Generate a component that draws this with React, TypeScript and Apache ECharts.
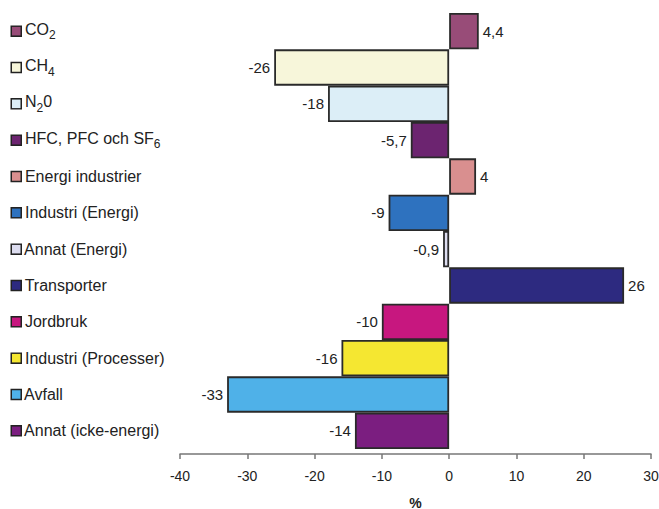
import React, { useEffect, useRef } from "react";
import * as echarts from "echarts";

// Category names; {x} marks a subscript
const categories = [
  "CO{2}",
  "CH{4}",
  "N{2}0",
  "HFC, PFC och SF{6}",
  "Energi industrier",
  "Industri (Energi)",
  "Annat (Energi)",
  "Transporter",
  "Jordbruk",
  "Industri (Processer)",
  "Avfall",
  "Annat (icke-energi)",
];

const values = [4.4, -26, -18, -5.7, 4, -9, -0.9, 26, -10, -16, -33, -14];

const colors = [
  "#984c78",
  "#f7f6da",
  "#dceef7",
  "#6c2470",
  "#d98f8f",
  "#2e72bf",
  "#dcdcef",
  "#2d2a80",
  "#c7177f",
  "#f5e731",
  "#4fb1e8",
  "#7b1e80",
];

const xTicks = { min: -40, max: 30, interval: 10 };

export default function App() {
  const ref = useRef<HTMLDivElement>(null);

  useEffect(() => {
    if (!ref.current) return;
    const chart = echarts.init(ref.current, undefined, { renderer: "svg" });
    const ff = "Liberation Sans, Arial, sans-serif";

    const rich: Record<string, any> = {
      t: { fontSize: 16, color: "#222", lineHeight: 18, fontFamily: ff },
      tt: { fontSize: 16, color: "#222", lineHeight: 18, verticalAlign: "top", fontFamily: ff },
      sp: { width: 0, height: 20 },
      sub: {
        fontSize: 12,
        color: "#222",
        lineHeight: 12,
        verticalAlign: "bottom",
        fontFamily: ff,
      },
    };
    colors.forEach((c, i) => {
      rich["sq" + i] = {
        width: 8.5,
        height: 8.5,
        backgroundColor: c,
        borderColor: "#222",
        borderWidth: 1.5,
      };
    });

    const fmtName = (name: string, idx: number) => {
      const parts = name.split(/(\{[^}]*\})/).filter((p) => p.length > 0);
      const hasSub = parts.some((p) => p.startsWith("{"));
      if (!hasSub) return `{sq${idx}|}{t| ${name}}`;
      let s = `{sp|}{sq${idx}|}{tt| }`;
      parts.forEach((p) => {
        if (p.startsWith("{")) s += `{sub|${p.slice(1, -1)}}`;
        else s += `{tt|${p}}`;
      });
      return s;
    };

    chart.setOption({
      animation: false,
      textStyle: { fontFamily: ff },
      grid: { left: 180, right: 8, top: 13, height: 436, containLabel: false, outerBoundsMode: "none" },
      xAxis: {
        type: "value",
        min: xTicks.min,
        max: xTicks.max,
        interval: xTicks.interval,
        offset: 5,
        axisLine: { show: true, lineStyle: { color: "#777", width: 1.5 } },
        axisTick: { show: true, length: 5, lineStyle: { color: "#777", width: 1.5 } },
        splitLine: { show: false },
        axisLabel: { fontSize: 14, color: "#222", margin: 15 },
        name: "%",
        nameLocation: "middle",
        nameGap: 42,
        nameTextStyle: { fontSize: 14, fontWeight: "bold", color: "#222" },
      },
      yAxis: {
        type: "category",
        inverse: true,
        data: categories,
        axisLine: { show: false },
        axisTick: { show: false },
        axisLabel: {
          align: "left",
          margin: 168,
          formatter: (v: string, i: number) => fmtName(v, i),
          rich,
        },
      },
      series: [
        {
          type: "bar",
          barCategoryGap: "0%",
          data: values.map((v, i) => ({
            value: v,
            itemStyle: { color: colors[i], borderColor: "#2a2a2a", borderWidth: 1.8 },
            label: {
              show: true,
              position: v < 0 ? "left" : "right",
              distance: 4,
              fontSize: 15,
              color: "#222",
              formatter: () => String(v).replace(".", ","),
            },
          })),
        },
      ],
    });

    return () => chart.dispose();
  }, []);

  return <div ref={ref} style={{ width: 659, height: 509, position: "absolute", left: 0, top: 0 }} />;
}
